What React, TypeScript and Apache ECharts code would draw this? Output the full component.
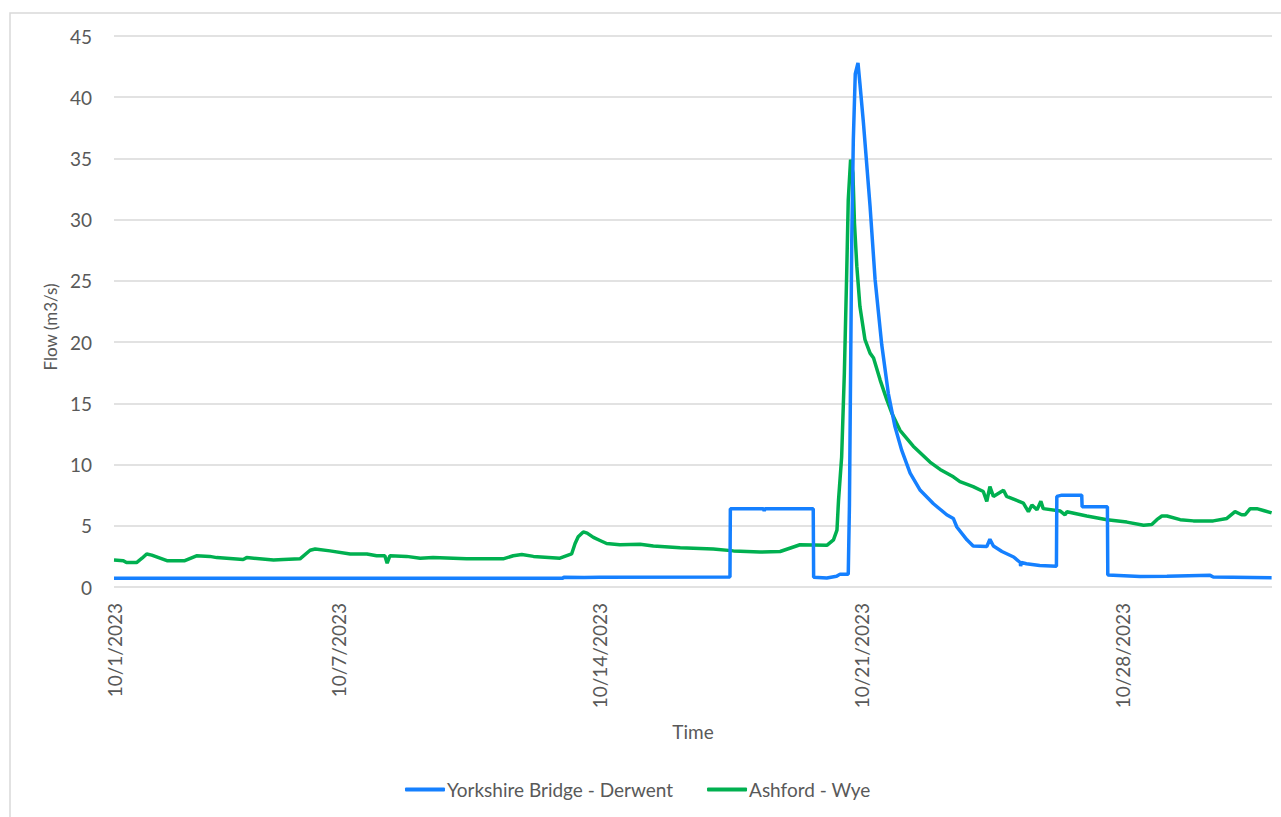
import React, { useEffect, useRef } from "react";
import * as echarts from "echarts";

// Flow readings (m3/s), October 2023
const derwentFlow: [string, number][] = [
  ["2023-10-01 00:00", 0.72],
  ["2023-10-13 00:30", 0.72],
  ["2023-10-13 01:00", 0.8],
  ["2023-10-13 14:00", 0.78],
  ["2023-10-14 00:00", 0.8],
  ["2023-10-17 11:45", 0.82],
  ["2023-10-17 12:00", 6.4],
  ["2023-10-18 09:15", 6.4],
  ["2023-10-18 09:45", 6.2],
  ["2023-10-18 10:15", 6.4],
  ["2023-10-19 17:15", 6.4],
  ["2023-10-19 17:30", 0.8],
  ["2023-10-20 02:00", 0.74],
  ["2023-10-20 08:15", 0.87],
  ["2023-10-20 10:30", 1.05],
  ["2023-10-20 15:45", 1.05],
  ["2023-10-20 16:30", 6.6],
  ["2023-10-20 17:15", 17.5],
  ["2023-10-20 18:00", 28.3],
  ["2023-10-20 19:00", 36.5],
  ["2023-10-20 20:15", 41.9],
  ["2023-10-20 22:00", 42.8],
  ["2023-10-20 23:15", 41.1],
  ["2023-10-21 01:30", 37.9],
  ["2023-10-21 05:45", 31.1],
  ["2023-10-21 09:00", 25.1],
  ["2023-10-21 13:15", 19.8],
  ["2023-10-21 17:30", 15.8],
  ["2023-10-21 21:45", 13.1],
  ["2023-10-22 02:00", 11.2],
  ["2023-10-22 07:30", 9.3],
  ["2023-10-22 14:00", 7.9],
  ["2023-10-22 22:30", 6.8],
  ["2023-10-23 02:45", 6.35],
  ["2023-10-23 07:00", 5.9],
  ["2023-10-23 11:15", 5.6],
  ["2023-10-23 13:30", 4.9],
  ["2023-10-23 20:00", 3.85],
  ["2023-10-24 00:00", 3.35],
  ["2023-10-24 08:45", 3.3],
  ["2023-10-24 10:45", 3.9],
  ["2023-10-24 13:00", 3.35],
  ["2023-10-24 18:30", 2.9],
  ["2023-10-25 02:00", 2.45],
  ["2023-10-25 06:15", 2.0],
  ["2023-10-25 06:30", 1.7],
  ["2023-10-25 07:00", 2.0],
  ["2023-10-25 10:15", 1.9],
  ["2023-10-25 18:45", 1.75],
  ["2023-10-26 05:30", 1.7],
  ["2023-10-26 05:45", 7.4],
  ["2023-10-26 09:00", 7.5],
  ["2023-10-26 21:45", 7.5],
  ["2023-10-26 22:00", 6.55],
  ["2023-10-27 14:15", 6.55],
  ["2023-10-27 14:30", 0.98],
  ["2023-10-28 11:15", 0.85],
  ["2023-10-29 04:30", 0.87],
  ["2023-10-30 08:15", 0.95],
  ["2023-10-30 10:15", 0.82],
  ["2023-10-31 23:45", 0.76],
];

const wyeFlow: [string, number][] = [
  ["2023-10-01 00:00", 2.2],
  ["2023-10-01 06:00", 2.15],
  ["2023-10-01 08:00", 2.0],
  ["2023-10-01 14:30", 2.0],
  ["2023-10-01 18:00", 2.35],
  ["2023-10-01 21:00", 2.7],
  ["2023-10-02 00:15", 2.6],
  ["2023-10-02 10:00", 2.15],
  ["2023-10-02 21:30", 2.15],
  ["2023-10-03 05:00", 2.55],
  ["2023-10-03 13:30", 2.5],
  ["2023-10-03 18:00", 2.4],
  ["2023-10-04 11:00", 2.25],
  ["2023-10-04 13:15", 2.4],
  ["2023-10-05 06:30", 2.2],
  ["2023-10-05 12:45", 2.25],
  ["2023-10-05 23:30", 2.3],
  ["2023-10-06 06:00", 3.0],
  ["2023-10-06 09:15", 3.1],
  ["2023-10-06 18:45", 2.95],
  ["2023-10-07 07:45", 2.7],
  ["2023-10-07 18:30", 2.7],
  ["2023-10-08 00:45", 2.55],
  ["2023-10-08 06:00", 2.55],
  ["2023-10-08 07:30", 1.95],
  ["2023-10-08 09:15", 2.55],
  ["2023-10-08 20:00", 2.5],
  ["2023-10-09 04:45", 2.35],
  ["2023-10-09 13:00", 2.4],
  ["2023-10-10 10:30", 2.3],
  ["2023-10-10 23:30", 2.3],
  ["2023-10-11 10:00", 2.3],
  ["2023-10-11 16:30", 2.55],
  ["2023-10-11 22:00", 2.65],
  ["2023-10-12 05:30", 2.5],
  ["2023-10-12 22:30", 2.35],
  ["2023-10-13 06:00", 2.7],
  ["2023-10-13 08:15", 3.55],
  ["2023-10-13 10:15", 4.1],
  ["2023-10-13 13:30", 4.5],
  ["2023-10-13 16:00", 4.4],
  ["2023-10-13 20:00", 4.05],
  ["2023-10-14 00:15", 3.8],
  ["2023-10-14 04:30", 3.55],
  ["2023-10-14 13:00", 3.45],
  ["2023-10-15 02:00", 3.5],
  ["2023-10-15 10:30", 3.35],
  ["2023-10-16 03:45", 3.2],
  ["2023-10-17 01:00", 3.1],
  ["2023-10-17 14:00", 2.95],
  ["2023-10-18 07:00", 2.85],
  ["2023-10-18 20:00", 2.9],
  ["2023-10-19 08:45", 3.45],
  ["2023-10-20 02:00", 3.4],
  ["2023-10-20 06:15", 3.85],
  ["2023-10-20 08:30", 4.65],
  ["2023-10-20 09:30", 7.1],
  ["2023-10-20 11:30", 10.6],
  ["2023-10-20 13:15", 17.5],
  ["2023-10-20 14:45", 25.6],
  ["2023-10-20 15:45", 31.6],
  ["2023-10-20 17:15", 34.9],
  ["2023-10-20 18:45", 33.8],
  ["2023-10-20 19:45", 29.7],
  ["2023-10-20 21:15", 26.2],
  ["2023-10-20 23:15", 22.9],
  ["2023-10-21 02:30", 20.2],
  ["2023-10-21 05:45", 19.1],
  ["2023-10-21 08:00", 18.7],
  ["2023-10-21 12:15", 16.9],
  ["2023-10-21 16:30", 15.3],
  ["2023-10-21 19:45", 14.2],
  ["2023-10-22 01:00", 12.8],
  ["2023-10-22 09:30", 11.5],
  ["2023-10-22 20:15", 10.2],
  ["2023-10-23 02:45", 9.6],
  ["2023-10-23 11:15", 9.0],
  ["2023-10-23 15:30", 8.6],
  ["2023-10-24 00:00", 8.2],
  ["2023-10-24 06:30", 7.8],
  ["2023-10-24 08:45", 7.0],
  ["2023-10-24 10:45", 8.2],
  ["2023-10-24 13:00", 7.4],
  ["2023-10-24 19:30", 7.9],
  ["2023-10-24 21:30", 7.4],
  ["2023-10-25 08:15", 6.85],
  ["2023-10-25 11:30", 6.15],
  ["2023-10-25 13:45", 6.7],
  ["2023-10-25 17:00", 6.3],
  ["2023-10-25 19:30", 7.0],
  ["2023-10-25 21:00", 6.4],
  ["2023-10-26 08:00", 6.2],
  ["2023-10-26 11:00", 5.9],
  ["2023-10-26 12:15", 6.15],
  ["2023-10-27 01:00", 5.8],
  ["2023-10-27 14:00", 5.5],
  ["2023-10-28 02:45", 5.3],
  ["2023-10-28 13:30", 5.05],
  ["2023-10-28 18:45", 5.1],
  ["2023-10-28 22:00", 5.5],
  ["2023-10-29 01:15", 5.8],
  ["2023-10-29 04:30", 5.8],
  ["2023-10-29 13:00", 5.5],
  ["2023-10-29 21:30", 5.4],
  ["2023-10-30 10:15", 5.4],
  ["2023-10-30 19:00", 5.6],
  ["2023-10-31 00:15", 6.15],
  ["2023-10-31 04:30", 5.9],
  ["2023-10-31 06:45", 5.9],
  ["2023-10-31 10:00", 6.4],
  ["2023-10-31 14:15", 6.4],
  ["2023-10-31 18:30", 6.25],
  ["2023-10-31 23:45", 6.05],
];

// Dates labelled along the time axis (day of October 2023)
const labelDays = [1, 7, 14, 21, 28];

const FONT = "Lato";
const TEXT = "#595959";
const GRID = "#d9d9d9";

const toMs = (s: string) => new Date(s.replace(" ", "T")).getTime();
const toPoints = (rows: [string, number][]) => rows.map(([t, v]) => [toMs(t), v]);

export default function App() {
  const ref = useRef<HTMLDivElement>(null);

  useEffect(() => {
    if (!ref.current) return;
    const chart = echarts.init(ref.current, undefined, { renderer: "svg" });
    const labelTimes = labelDays.map((d) => new Date(2023, 9, d).getTime());

    chart.setOption({
      animation: false,
      backgroundColor: "#ffffff",
      textStyle: { fontFamily: FONT, color: TEXT },
      graphic: [
        {
          type: "rect",
          shape: { x: 10, y: 13, width: 1400, height: 900 },
          style: { fill: "none", stroke: GRID, lineWidth: 1.5 },
          silent: true,
        },
        {
          type: "text",
          x: 50,
          y: 327,
          rotation: Math.PI / 2,
          style: {
            text: "Flow (m3/s)",
            fontFamily: FONT,
            fontSize: 17,
            fill: TEXT,
            align: "center",
            verticalAlign: "middle",
          },
        },
      ],
      grid: { left: 114, right: 9, top: 36, bottom: 230, containLabel: false },
      legend: {
        left: 400,
        top: 775,
        icon: "roundRect",
        itemWidth: 40,
        itemHeight: 4,
        itemGap: 34,
        textStyle: { fontFamily: FONT, fontSize: 19, color: TEXT, padding: [0, 0, 0, -3] },
        data: ["Yorkshire Bridge - Derwent", "Ashford - Wye"],
      },
      xAxis: {
        type: "value",
        min: new Date(2023, 9, 1).getTime(),
        max: new Date(2023, 10, 1).getTime(),
        name: "Time",
        nameLocation: "middle",
        nameGap: 135,
        nameTextStyle: { fontFamily: FONT, fontSize: 19, color: TEXT },
        axisLine: { show: false },
        axisTick: { show: false },
        splitLine: { show: false },
        axisLabel: {
          customValues: labelTimes,
          rotate: 90,
          margin: 16,
          fontFamily: FONT,
          fontSize: 19,
          color: TEXT,
          formatter: (v: number) => {
            const d = new Date(v);
            return `${d.getMonth() + 1}/${d.getDate()}/${d.getFullYear()}`;
          },
        },
      },
      yAxis: {
        type: "value",
        min: 0,
        max: 45,
        interval: 5,
        axisLine: { show: false },
        axisTick: { show: false },
        axisLabel: { margin: 22, fontFamily: FONT, fontSize: 19, color: TEXT },
        splitLine: { lineStyle: { color: GRID, width: 1.5 } },
      },
      series: [
        {
          name: "Yorkshire Bridge - Derwent",
          type: "line",
          data: toPoints(derwentFlow),
          symbol: "none",
          showSymbol: false,
          color: "#1580FF",
          lineStyle: { width: 3.5, color: "#1580FF" },
          z: 3,
        },
        {
          name: "Ashford - Wye",
          type: "line",
          data: toPoints(wyeFlow),
          symbol: "none",
          showSymbol: false,
          color: "#00B050",
          lineStyle: { width: 3.5, color: "#00B050" },
          z: 2,
        },
      ],
    });

    return () => chart.dispose();
  }, []);

  return (
    <div
      ref={ref}
      style={{ position: "fixed", left: 0, top: 0, width: 1281, height: 817, background: "#fff" }}
    />
  );
}
